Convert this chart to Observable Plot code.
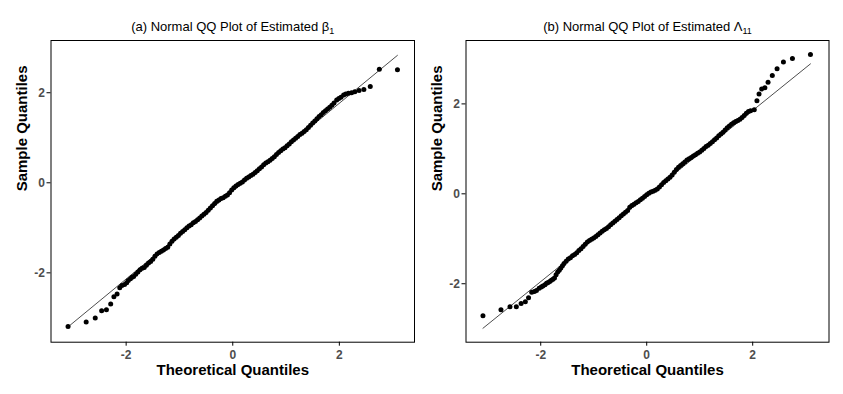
<!DOCTYPE html>
<html>
<head>
<meta charset="utf-8">
<script src="https://cdn.jsdelivr.net/npm/d3@7"></script>
<script src="https://cdn.jsdelivr.net/npm/@observablehq/plot@0.6"></script>
<style>
  html, body { margin: 0; padding: 0; background: #fff; }
  #wrap { display: flex; width: 843px; height: 394px; }
</style>
</head>
<body>
<div id="wrap"></div>
<script>
// ---- Panel (a): estimated beta_1 ----
const titleA = "(a) Normal QQ Plot of Estimated β";
const subA = "1";
const theoA = [
  -3.09,-2.75,-2.58,-2.46,-2.37,-2.29,-2.23,-2.17,-2.12,-2.08,-2.03,-1.99,-1.96,-1.92,-1.89,
  -1.86,-1.82,-1.78,-1.74,-1.70,-1.66,-1.62,-1.58,-1.54,-1.50,
  -1.46,-1.42,-1.38,-1.34,-1.30,-1.26,-1.22,-1.18,-1.14,-1.10,
  -1.06,-1.02,-0.98,-0.94,-0.90,-0.86,-0.82,-0.78,-0.74,-0.70,
  -0.66,-0.62,-0.58,-0.54,-0.50,-0.46,-0.42,-0.38,-0.34,-0.30,
  -0.26,-0.22,-0.18,-0.14,-0.10,-0.06,-0.02,0.02,0.06,0.10,
  0.14,0.18,0.22,0.26,0.30,0.34,0.38,0.42,0.46,0.50,
  0.54,0.58,0.62,0.66,0.70,0.74,0.78,0.82,0.86,0.90,
  0.94,0.98,1.02,1.06,1.10,1.14,1.18,1.22,1.26,1.30,
  1.34,1.38,1.42,1.46,1.50,1.54,1.58,1.62,1.66,1.70,
  1.74,1.78,1.82,1.86,1.90,
  1.95,1.99,2.03,2.08,2.12,2.17,2.23,2.29,2.37,2.46,2.58,2.75,3.09
];
const sampleA = [
  -3.19,-3.09,-3.00,-2.84,-2.82,-2.69,-2.53,-2.47,-2.33,-2.28,-2.26,-2.22,-2.17,-2.13,-2.10,
  -2.08,-2.03,-1.98,-1.93,-1.90,-1.88,-1.83,-1.78,-1.75,-1.70,
  -1.63,-1.58,-1.55,-1.52,-1.49,-1.46,-1.43,-1.36,-1.30,-1.25,
  -1.21,-1.17,-1.12,-1.08,-1.04,-1.00,-0.96,-0.93,-0.89,-0.86,
  -0.82,-0.78,-0.74,-0.70,-0.66,-0.61,-0.56,-0.51,-0.46,-0.41,
  -0.38,-0.35,-0.33,-0.30,-0.27,-0.22,-0.16,-0.11,-0.07,-0.04,
  -0.01,0.02,0.06,0.10,0.13,0.16,0.19,0.23,0.27,0.31,
  0.35,0.40,0.44,0.47,0.50,0.54,0.58,0.63,0.67,0.71,
  0.75,0.78,0.82,0.86,0.91,0.95,0.99,1.03,1.07,1.10,
  1.14,1.18,1.23,1.28,1.33,1.37,1.42,1.47,1.51,1.56,
  1.60,1.64,1.68,1.72,1.77,
  1.84,1.87,1.90,1.95,1.97,1.99,2.00,2.02,2.05,2.07,2.14,2.52,2.51
];
const lineAx = [-3.09, 3.09];
const lineAy = [-3.20, 2.83];

// ---- Panel (b): estimated Lambda_11 ----
const titleB = "(b) Normal QQ Plot of Estimated Λ";
const subB = "11";
const theoB = [
  -3.09,-2.75,-2.58,-2.46,-2.37,-2.29,-2.23,-2.17,-2.12,-2.08,-2.03,-1.99,-1.96,
  -1.92,-1.89,-1.86,-1.83,-1.80,-1.77,-1.74,-1.71,-1.68,-1.65,-1.62,-1.59,-1.56,
  -1.52,-1.48,-1.44,-1.40,-1.36,-1.32,-1.28,-1.24,-1.20,-1.16,
  -1.12,-1.08,-1.04,-1.00,-0.96,-0.92,-0.88,-0.84,-0.80,-0.76,
  -0.72,-0.68,-0.64,-0.60,-0.56,-0.52,-0.48,-0.44,-0.40,-0.36,
  -0.32,-0.28,-0.24,-0.20,-0.16,-0.12,-0.08,-0.04,0.00,0.04,
  0.08,0.12,0.16,0.20,0.24,0.28,0.32,0.36,0.40,0.44,
  0.48,0.52,0.56,0.60,0.64,0.68,0.72,0.76,0.80,0.84,
  0.88,0.92,0.96,1.00,1.04,1.08,1.12,1.16,1.20,1.24,
  1.28,1.32,1.36,1.40,1.44,1.48,1.52,1.56,1.60,1.64,
  1.68,1.72,1.76,1.80,1.84,
  1.88,1.92,1.96,2.03,2.08,2.12,2.17,2.23,2.29,2.37,2.46,2.58,2.75,3.09
];
const sampleB = [
  -2.71,-2.58,-2.51,-2.51,-2.44,-2.40,-2.31,-2.19,-2.17,-2.15,-2.10,-2.07,-2.05,
  -2.02,-1.99,-1.97,-1.95,-1.92,-1.90,-1.87,-1.80,-1.74,-1.70,-1.65,-1.60,-1.55,
  -1.50,-1.45,-1.42,-1.38,-1.35,-1.31,-1.26,-1.22,-1.17,-1.12,
  -1.07,-1.04,-1.01,-0.98,-0.95,-0.91,-0.87,-0.83,-0.80,-0.77,
  -0.73,-0.69,-0.65,-0.61,-0.57,-0.53,-0.49,-0.45,-0.41,-0.37,
  -0.30,-0.26,-0.23,-0.20,-0.17,-0.13,-0.10,-0.06,-0.02,0.01,
  0.04,0.06,0.08,0.11,0.15,0.20,0.25,0.29,0.33,0.37,
  0.42,0.48,0.54,0.59,0.63,0.67,0.71,0.75,0.78,0.81,
  0.84,0.87,0.90,0.93,0.97,1.01,1.05,1.08,1.12,1.16,
  1.20,1.24,1.29,1.33,1.37,1.42,1.47,1.51,1.55,1.58,
  1.61,1.63,1.66,1.70,1.74,
  1.79,1.83,1.85,1.87,2.07,2.22,2.33,2.36,2.48,2.63,2.78,2.93,3.01,3.10
];
const lineBx = [-3.09, 3.09];
const lineBy = [-2.99, 2.89];

const xTicks = [-2, 0, 2];
const yTicks = [-2, 0, 2];
const xTitle = "Theoretical Quantiles";
const yTitle = "Sample Quantiles";

const FONT = "'Liberation Sans', Arial, sans-serif";

function panel(o) {
  const pts = o.theo.map((t, i) => ({t, s: o.sample[i]}));
  const ln = o.lx.map((x, i) => ({x, y: o.ly[i]}));
  const svg = Plot.plot({
    width: o.width, height: 394,
    marginLeft: o.ml, marginRight: o.mr, marginTop: 40, marginBottom: 52.3,
    style: {fontFamily: FONT, fontSize: "12px", background: "#fff", overflow: "visible"},
    x: {domain: o.xd},
    y: {domain: o.yd},
    marks: [
      Plot.axisX({ticks: xTicks, tickSize: 4, tickPadding: 4, label: null, tickFormat: d => String(d), fontSize: 12}),
      Plot.axisY({ticks: yTicks, tickSize: 4, tickPadding: 2, label: null, tickFormat: d => String(d), fontSize: 12}),
      Plot.line(ln, {x: "x", y: "y", stroke: "#000", strokeWidth: 0.7}),
      Plot.dot(pts, {x: "t", y: "s", r: 2.5, fill: "#000", stroke: "none"}),
      Plot.frame({stroke: "#000", strokeWidth: 1}),
      Plot.text([o.title], {frameAnchor: "top", dy: -19, fontSize: 13, fill: "#000"}),
      Plot.text([xTitle], {frameAnchor: "bottom", dy: 33, fontSize: 15, fontWeight: "bold", fill: "#000"}),
      Plot.text([yTitle], {frameAnchor: "left", dx: o.ydx, rotate: -90, fontSize: 15, fontWeight: "bold", fill: "#000"})
    ]
  });
  const s = d3.select(svg);
  s.selectAll('g[aria-label="x-axis tick label"] text, g[aria-label="y-axis tick label"] text')
    .attr("fill", "#4d4d4d").attr("font-weight", "bold");
  s.selectAll("text").filter(function() { return this.textContent === o.title; })
    .append("tspan").attr("font-size", 9).attr("dy", 3).text(o.sub);
  return svg;
}

const wrap = document.getElementById("wrap");
wrap.appendChild(panel({
  width: 421, ml: 50.5, mr: 7, xd: [-3.41, 3.41], yd: [-3.54, 3.16],
  theo: theoA, sample: sampleA, lx: lineAx, ly: lineAy, title: titleA, sub: subA, ydx: -29
}));
wrap.appendChild(panel({
  width: 422, ml: 44.5, mr: 14.5, xd: [-3.41, 3.44], yd: [-3.30, 3.41],
  theo: theoB, sample: sampleB, lx: lineBx, ly: lineBy, title: titleB, sub: subB, ydx: -29
}));
</script>
</body>
</html>
